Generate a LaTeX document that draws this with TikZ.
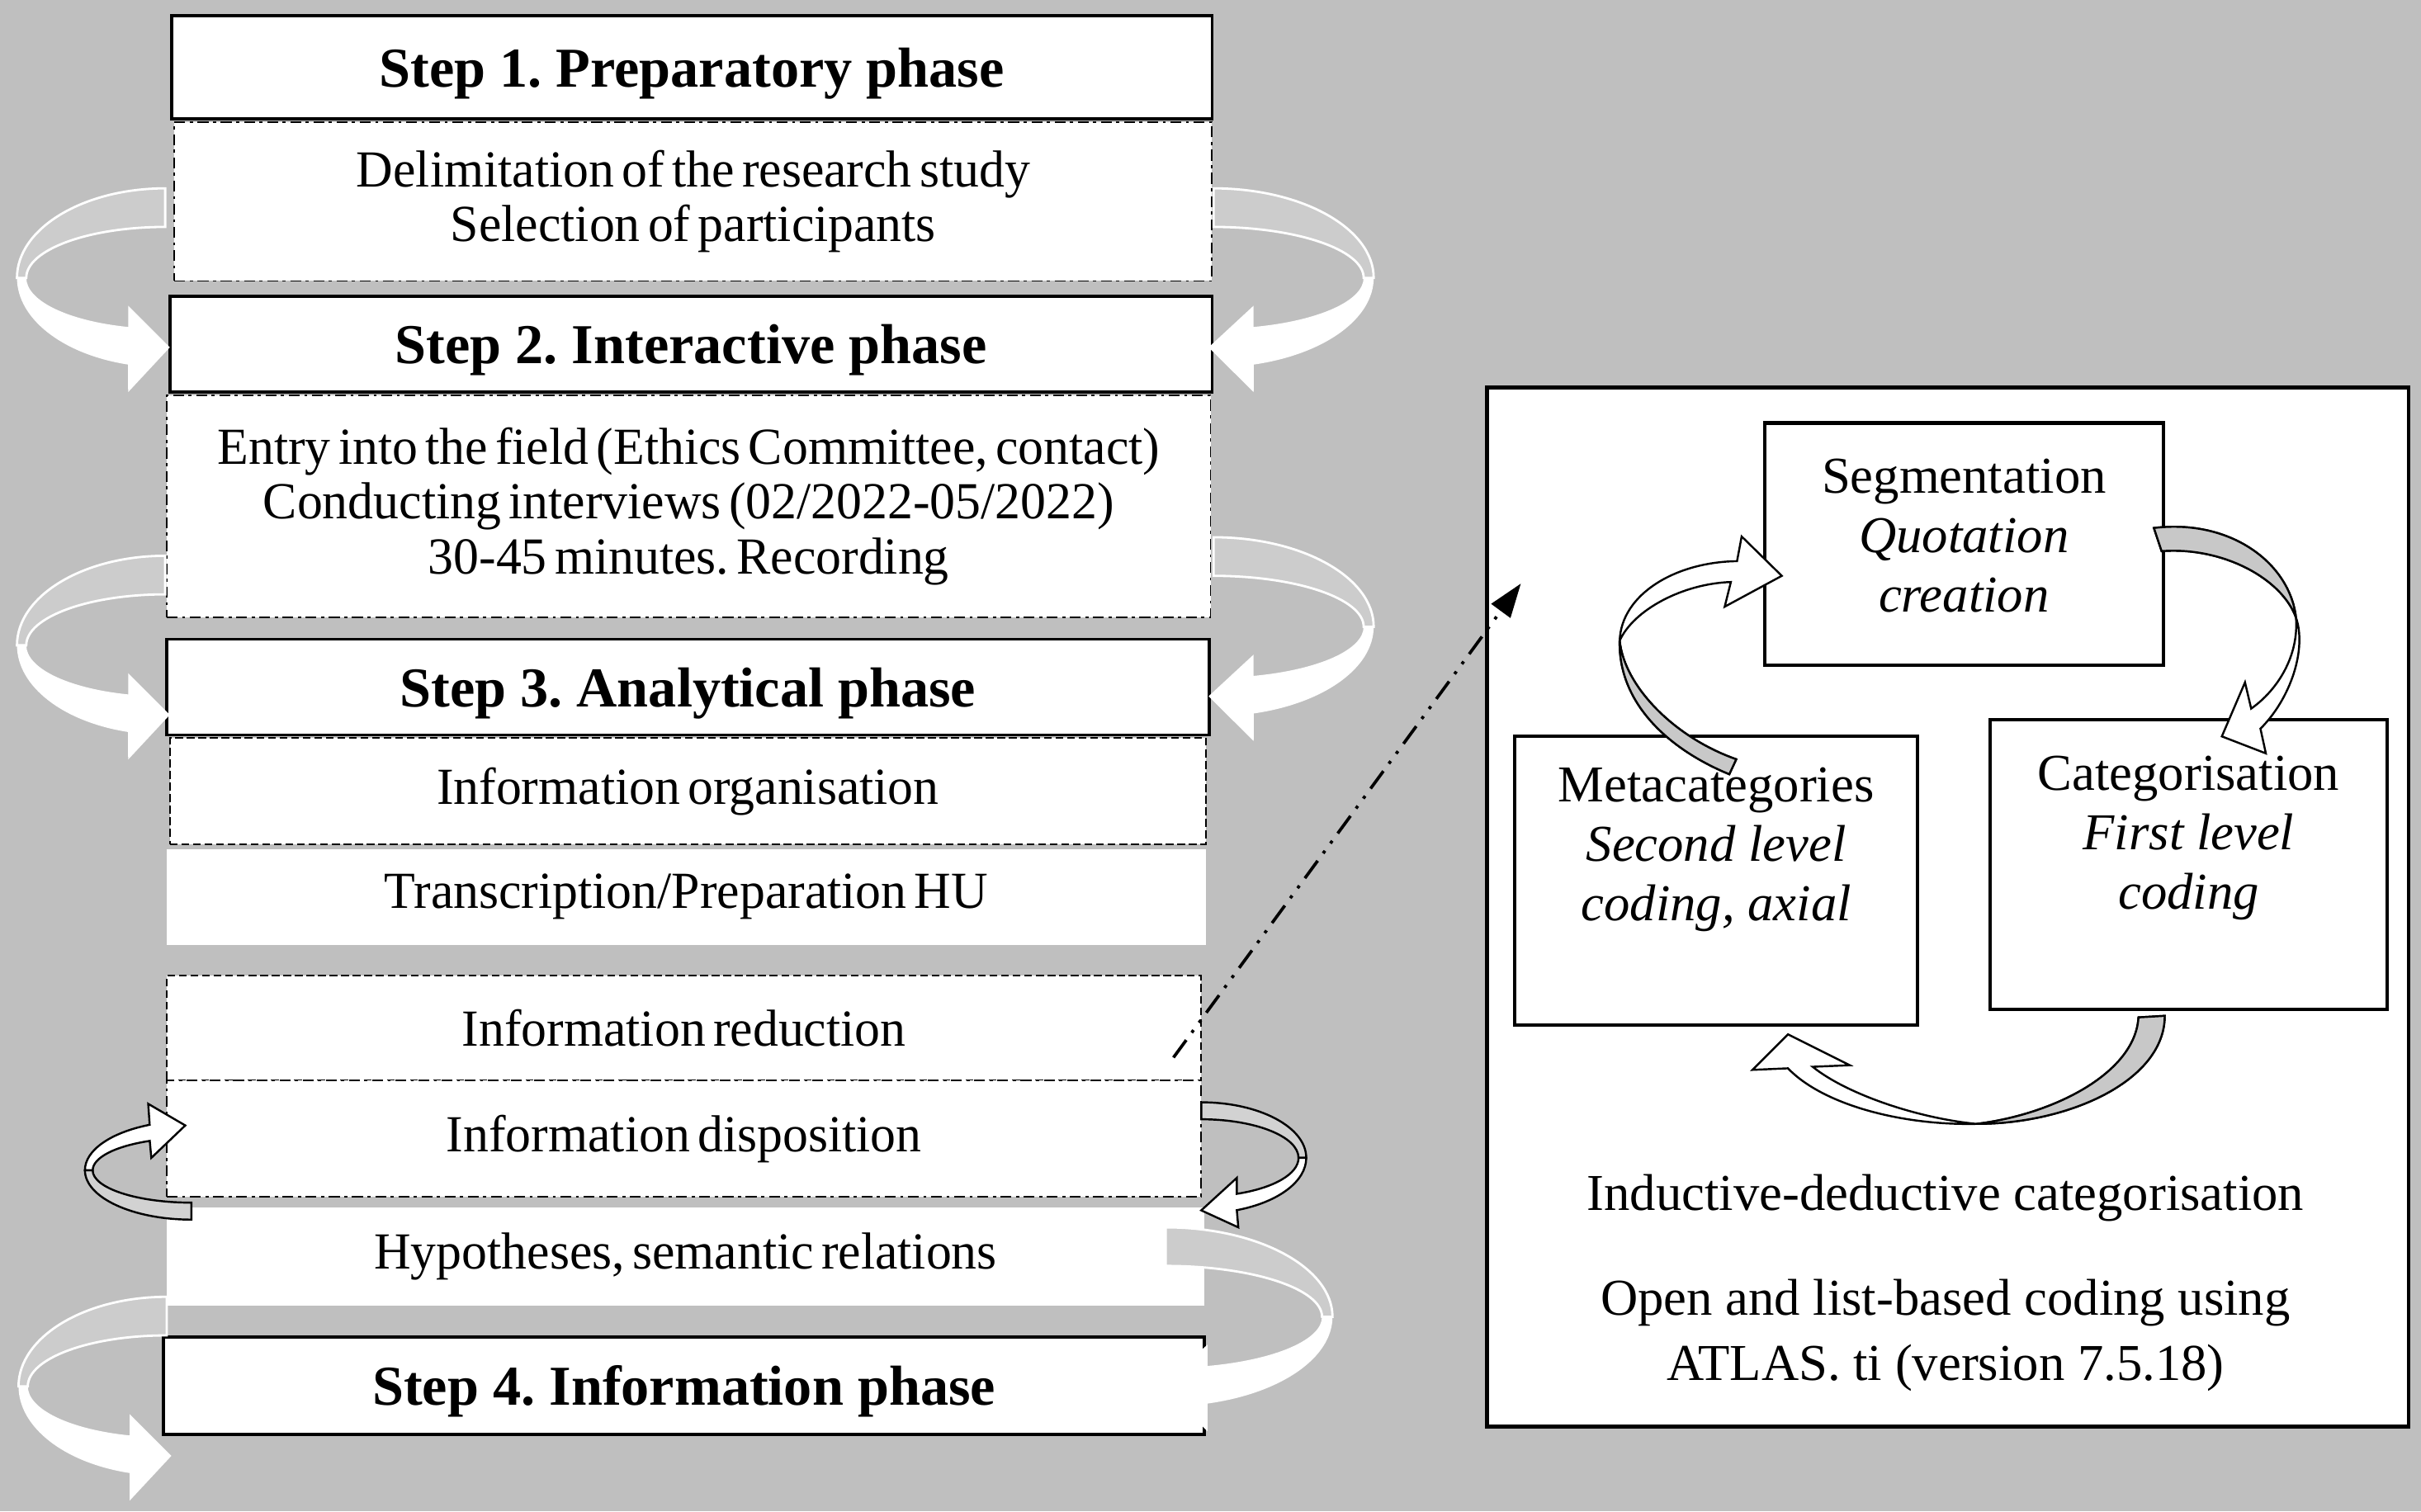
\documentclass[tikz,border=0pt]{standalone}
\usepackage{fontspec}
\setmainfont{Liberation Serif}
\newfontfamily\phasefamily[WordSpace=0.6, FakeStretch=0.98]{Liberation Serif}
\usetikzlibrary{arrows.meta}

\definecolor{backdrop}{RGB}{191,191,191}
\definecolor{ribbongray}{RGB}{204,204,204}
\definecolor{smallgray}{RGB}{210,210,210}
\definecolor{loopgray}{RGB}{200,200,200}

\newcommand{\phasefont}{\bfseries\fontsize{36.5pt}{40pt}\selectfont}
\newcommand{\taskfont}{\phasefamily\fontsize{33.7pt}{35.5pt}\selectfont}
\newcommand{\panelfont}{\fontsize{33.5pt}{38.5pt}\selectfont}

\tikzset{
	phasebox/.style={draw, line width=2pt, fill=white, inner sep=0pt, font=\phasefont, text depth=0pt},
	dotbox/.style={draw, line width=1pt, dash pattern=on 7pt off 3pt on 2pt off 3pt, fill=white, inner sep=0pt, font=\taskfont, align=center},
	dashbox/.style={draw, line width=1pt, dash pattern=on 5pt off 2.5pt, fill=white, inner sep=0pt, font=\taskfont, align=center},
	plainbox/.style={fill=white, inner sep=0pt, font=\taskfont, align=center},
	panelbox/.style={draw, line width=2.2pt, fill=white, inner sep=0pt},
	paneltext/.style={inner sep=0pt, font=\panelfont, align=center},
	loopband/.style={draw, line width=1.3pt, fill=white, line join=miter},
	loopback/.style={loopband, fill=loopgray},
	smallband/.style={draw, line width=1.3pt, fill=white},
	smallback/.style={smallband, fill=smallgray},
	linkarrow/.style={line width=2pt, dash pattern=on 14pt off 6pt on 2pt off 6pt on 2pt off 6pt, -{Triangle[length=22pt,width=15pt]}},
	% the pic is drawn with y pointing up
	ribbon/.pic={
		% back half of the ribbon
		\draw [draw=white, line width=1.5pt, fill=ribbongray] (0,58) arc[start angle=90, end angle=180, x radius=96, y radius=58] -- (-90,0) arc[start angle=180, end angle=90, x radius=90, y radius=33] -- cycle ;
		% front half with its head
		\fill [white] (-96,0) arc[start angle=180, end angle=255.5, x radius=96, y radius=58] -- (-24,-74) -- (3,-45) -- (-24,-18) -- (-24,-31.8) arc[start angle=254.5, end angle=180, x radius=90, y radius=33] -- cycle ;
	}
}
\tikzset{every picture/.style={line width=1pt}}

\begin{document}
\frenchspacing
\begin{tikzpicture}[x=1pt,y=1pt,yscale=-1,xscale=1]
	\fill [backdrop] (0,0) rectangle (1568,979);
	\useasboundingbox (0,0) rectangle (1568,979);

	% Left column: phases and their tasks
	\node [phasebox, minimum width=674, minimum height=67] (prep) at (448,43.5) {Step 1. Preparatory phase};
	\node [dotbox, minimum width=672, minimum height=103] (prepbody) at (449,130.5) {Delimitation of the research study\\Selection of participants};
	\node [phasebox, minimum width=675, minimum height=62] (inter) at (447.5,223) {Step 2. Interactive phase};
	\node [dotbox, minimum width=676, minimum height=144] (interbody) at (446,328) {Entry into the field (Ethics Committee, contact)\\Conducting interviews (02/2022-05/2022)\\30-45 minutes. Recording};
	\node [phasebox, minimum width=675, minimum height=62] (anal) at (445.5,445) {Step 3. Analytical phase};
	\node [dashbox, minimum width=671, minimum height=69] (organ) at (445.5,512.5) {Information organisation};
	\node [plainbox, minimum width=673, minimum height=62] (transc) at (444.5,581) {Transcription/Preparation HU};
	\node [dashbox, minimum width=670, minimum height=68] (reduc) at (443,666) {Information reduction};
	\node [dotbox, minimum width=670, minimum height=75] (dispo) at (443,737.5) {Information disposition};
	\node [plainbox, minimum width=672, minimum height=64] (hypo) at (444,814) {Hypotheses, semantic relations};
	\node [phasebox, minimum width=674, minimum height=63] (inform) at (443,897.5) {Step 4. Information phase};

	% Ribbon arrows between the phases
	\pic at (107,180) {ribbon};
	\pic [xscale=-1.08] at (786,180) {ribbon};
	\pic at (107,418) {ribbon};
	\pic [xscale=-1.08] at (786,406) {ribbon};
	\pic at (108,898) {ribbon};
	\pic [xscale=-1.125] at (755,853) {ribbon};

	% Small loops round the disposition
	\draw [smallback] (124,790) arc[start angle=90, end angle=180, x radius=69, y radius=32] -- (60,758) arc[start angle=180, end angle=90, x radius=64, y radius=21] -- cycle ;
	\draw [smallband] (55,758) arc[start angle=180, end angle=246.9, x radius=69, y radius=32] -- (96,715) -- (120,729) -- (98,750) -- (97,739) arc[start angle=245, end angle=180, x radius=64, y radius=21] -- cycle ;
	\draw [smallback] (778,714) arc[start angle=270, end angle=360, x radius=68, y radius=36] -- (841,750) arc[start angle=360, end angle=270, x radius=63, y radius=25] -- cycle ;
	\draw [smallband] (846,750) arc[start angle=0, end angle=70.2, x radius=68, y radius=36] -- (802,795) -- (778,784) -- (801,763) -- (801,773.3) arc[start angle=68.6, end angle=0, x radius=63, y radius=25] -- cycle ;

	% Right panel: the coding cycle
	\node [panelbox, line width=2.5pt, minimum width=597, minimum height=673] (panel) at (1261.5,587.5) {};
	\node [panelbox, minimum width=258, minimum height=157] (seg) at (1272,352.5) {};
	\node [panelbox, minimum width=261, minimum height=187] (meta) at (1111.5,570.5) {};
	\node [panelbox, minimum width=257, minimum height=188] (categ) at (1417.5,560) {};
	\node [paneltext] (segtext) at (1272,347) {Segmentation\\\textit{Quotation}\\\textit{creation}};
	\node [paneltext] (metatext) at (1111.5,550.5) {Metacategories\\\textit{Second level}\\\textit{coding, axial}};
	\node [paneltext] (categtext) at (1417.5,543) {Categorisation\\\textit{First level}\\\textit{coding}};
	\node [paneltext] (induct) at (1260,776) {Inductive-deductive categorisation};
	\node [paneltext, font=\fontsize{33.5pt}{42pt}\selectfont] (atlas) at (1260,865) {Open and list-based coding using\\ATLAS. ti (version 7.5.18)};

	% Segmentation to categorisation
	\draw [loopband] (1395,342) .. controls (1445,336) and (1483,365) .. (1487,400) .. controls (1494,420) and (1484,452) .. (1464,472) -- (1467.5,488) -- (1439,477) -- (1454,442) -- (1458,459) .. controls (1475,447) and (1489,425) .. (1487,400) .. controls (1478,375) and (1440,354) .. (1400,357) -- cycle ;
	\draw [loopback] (1395,342) .. controls (1445,336) and (1483,365) .. (1487,400) .. controls (1478,375) and (1440,354) .. (1400,357) -- cycle ;
	% Categorisation to metacategories
	\draw [loopband] (1402,658) .. controls (1402,700) and (1340,728) .. (1280,728) .. controls (1230,729) and (1180,715) .. (1158,692) -- (1135,693) -- (1158,670) -- (1198,690) -- (1174,691) .. controls (1195,708) and (1240,724) .. (1280,728) .. controls (1330,722) and (1383,695) .. (1385,659) -- cycle ;
	\draw [loopback] (1402,658) .. controls (1402,700) and (1340,728) .. (1280,728) .. controls (1330,722) and (1383,695) .. (1385,659) -- cycle ;
	% Metacategories to segmentation
	\draw [loopband] (1120,501.5) .. controls (1080,485) and (1048,455) .. (1049,415) .. controls (1050,385) and (1085,364) .. (1125,363.5) -- (1128,347.5) -- (1154,373) -- (1117,393) -- (1121,377) .. controls (1090,378) and (1058,395) .. (1049,415) .. controls (1052,445) and (1085,478) .. (1124.5,491.8) -- cycle ;
	\draw [loopback] (1120,501.5) .. controls (1080,485) and (1048,455) .. (1049,415) .. controls (1052,445) and (1085,478) .. (1124.5,491.8) -- cycle ;

	% Link from the reduction to the panel
	\coordinate (linkfrom) at (760,685);
	\coordinate (linkto) at (985,378);
	\draw [linkarrow] (linkfrom) -- (linkto);

\end{tikzpicture}
\end{document}
